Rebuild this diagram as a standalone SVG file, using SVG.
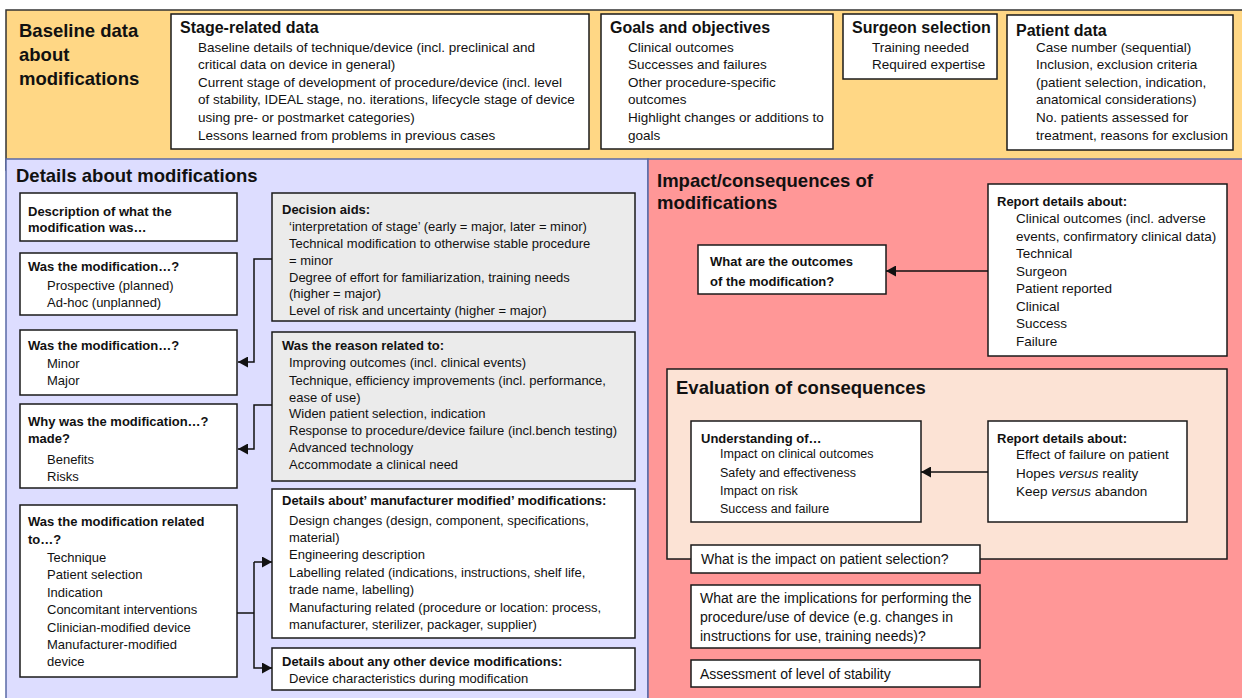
<svg xmlns="http://www.w3.org/2000/svg" width="1242" height="698" viewBox="0 0 1242 698">
<defs>
<style>
text{font-family:"Liberation Sans",Arial,sans-serif;fill:#111}
.pt{font-size:18.5px;font-weight:bold}
.bt{font-size:16px;font-weight:bold}
.hb{font-size:13px;font-weight:bold}
.r13{font-size:13px}
.r135{font-size:13.5px}
.r125{font-size:12.5px}
.r14{font-size:14px}
.box{fill:#fff;stroke:#1a1a1a;stroke-width:1.5}
.gbox{fill:#ebebeb;stroke:#1a1a1a;stroke-width:1.5}
.con{fill:none;stroke:#111;stroke-width:1.5}
</style>
<marker id="ah" markerWidth="10" markerHeight="11" refX="10" refY="5.5" orient="auto" markerUnits="userSpaceOnUse"><path d="M0,0 L10,5.5 L0,11 z" fill="#111"/></marker>
</defs>
<rect width="1242" height="698" fill="#fff"/>
<g id="panel-baseline">
<rect x="6" y="10" width="1250" height="160" fill="#FFD785" stroke="#333" stroke-width="1.5"/>
<text class="pt" x="19" y="37">Baseline data</text>
<text class="pt" x="19" y="61">about</text>
<text class="pt" x="19" y="85">modifications</text>
</g>
<g id="panel-details">
<rect x="6" y="159" width="642" height="545" fill="#DDDDFF" stroke="#5A6AA6" stroke-width="1.5"/>
<text class="pt" x="16" y="182">Details about modifications</text>
</g>
<g id="panel-impact">
<rect x="648" y="159" width="600" height="545" fill="#FF9797" stroke="#5A6AA6" stroke-width="1.5"/>
<text class="pt" x="657" y="187">Impact/consequences of</text>
<text class="pt" x="657" y="209">modifications</text>
</g>
<g id="stage-related">
<rect class="box" x="171" y="14" width="418" height="135"/>
<text class="bt" x="180" y="33">Stage-related data</text>
<text class="r135" x="198" y="51.5">Baseline details of technique/device (incl. preclinical and</text>
<text class="r135" x="198" y="69.1">critical data on device in general)</text>
<text class="r135" x="198" y="86.7">Current stage of development of procedure/device (incl. level</text>
<text class="r135" x="198" y="104.3">of stability, IDEAL stage, no. iterations, lifecycle stage of device</text>
<text class="r135" x="198" y="121.9">using pre- or postmarket categories)</text>
<text class="r135" x="198" y="139.5">Lessons learned from problems in previous cases</text>
</g>
<g id="goals">
<rect class="box" x="601" y="14" width="232" height="135"/>
<text class="bt" x="610" y="33">Goals and objectives</text>
<text class="r135" x="628" y="51.5">Clinical outcomes</text>
<text class="r135" x="628" y="69.1">Successes and failures</text>
<text class="r135" x="628" y="86.7">Other procedure-specific</text>
<text class="r135" x="628" y="104.3">outcomes</text>
<text class="r135" x="628" y="121.9">Highlight changes or additions to</text>
<text class="r135" x="628" y="139.5">goals</text>
</g>
<g id="surgeon">
<rect class="box" x="843" y="14" width="154" height="65"/>
<text class="bt" x="852" y="33">Surgeon selection</text>
<text class="r135" x="872" y="51.5">Training needed</text>
<text class="r135" x="872" y="69.1">Required expertise</text>
</g>
<g id="patient">
<rect class="box" x="1007" y="15" width="226" height="135"/>
<text class="bt" x="1016" y="36">Patient data</text>
<text class="r135" x="1036" y="51.5">Case number (sequential)</text>
<text class="r135" x="1036" y="69.1">Inclusion, exclusion criteria</text>
<text class="r135" x="1036" y="86.7">(patient selection, indication,</text>
<text class="r135" x="1036" y="104.3">anatomical considerations)</text>
<text class="r135" x="1036" y="121.9">No. patients assessed for</text>
<text class="r135" x="1036" y="139.5">treatment, reasons for exclusion</text>
</g>
<g id="description">
<rect class="box" x="20" y="193" width="217" height="48"/>
<text class="hb" x="28" y="215.5">Description of what the</text>
<text class="hb" x="28" y="231.5">modification was…</text>
</g>
<g id="planned">
<rect class="box" x="20" y="253" width="217" height="62"/>
<text class="hb" x="28" y="270.5">Was the modification…?</text>
<text class="r13" x="47" y="289.5">Prospective (planned)</text>
<text class="r13" x="47" y="306.5">Ad-hoc (unplanned)</text>
</g>
<g id="minor-major">
<rect class="box" x="20" y="330" width="217" height="65"/>
<text class="hb" x="28" y="349.5">Was the modification…?</text>
<text class="r13" x="47" y="367.5">Minor</text>
<text class="r13" x="47" y="384.5">Major</text>
</g>
<g id="why">
<rect class="box" x="20" y="404" width="217" height="84"/>
<text class="hb" x="28" y="425.5">Why was the modification…?</text>
<text class="hb" x="28" y="442.5">made?</text>
<text class="r13" x="47" y="463.5">Benefits</text>
<text class="r13" x="47" y="480.5">Risks</text>
</g>
<g id="related">
<rect class="box" x="20" y="505" width="217" height="172"/>
<text class="hb" x="28" y="525.5">Was the modification related</text>
<text class="hb" x="28" y="543.5">to…?</text>
<text class="r13" x="47" y="561.5">Technique</text>
<text class="r13" x="47" y="579">Patient selection</text>
<text class="r13" x="47" y="596.5">Indication</text>
<text class="r13" x="47" y="614">Concomitant interventions</text>
<text class="r13" x="47" y="631.5">Clinician-modified device</text>
<text class="r13" x="47" y="649">Manufacturer-modified</text>
<text class="r13" x="47" y="666">device</text>
</g>
<g id="decision-aids">
<rect class="gbox" x="272" y="193" width="363" height="128"/>
<text class="hb" x="282" y="213.7">Decision aids:</text>
<text class="r13" x="289" y="230.7">‘interpretation of stage’ (early = major, later = minor)</text>
<text class="r13" x="289" y="247.7">Technical modification to otherwise stable procedure</text>
<text class="r13" x="289" y="264.7">= minor</text>
<text class="r13" x="289" y="281.7">Degree of effort for familiarization, training needs</text>
<text class="r13" x="289" y="298.2">(higher = major)</text>
<text class="r13" x="289" y="314.7">Level of risk and uncertainty (higher = major)</text>
</g>
<g id="reason">
<rect class="gbox" x="272" y="332" width="363" height="149"/>
<text class="hb" x="282" y="349.7">Was the reason related to:</text>
<text class="r13" x="289" y="366.7">Improving outcomes (incl. clinical events)</text>
<text class="r13" x="289" y="384.5">Technique, efficiency improvements (incl. performance,</text>
<text class="r13" x="289" y="401.5">ease of use)</text>
<text class="r13" x="289" y="418">Widen patient selection, indication</text>
<text class="r13" x="289" y="435">Response to procedure/device failure (incl.bench testing)</text>
<text class="r13" x="289" y="452">Advanced technology</text>
<text class="r13" x="289" y="469">Accommodate a clinical need</text>
</g>
<g id="manufacturer">
<rect class="box" x="272" y="489" width="363" height="149"/>
<text class="hb" x="282" y="504.7">Details about’ manufacturer modified’ modifications:</text>
<text class="r13" x="289" y="524.7">Design changes (design, component, specifications,</text>
<text class="r13" x="289" y="541.7">material)</text>
<text class="r13" x="289" y="558.7">Engineering description</text>
<text class="r13" x="289" y="576.7">Labelling related (indications, instructions, shelf life,</text>
<text class="r13" x="289" y="593.7">trade name, labelling)</text>
<text class="r13" x="289" y="611.7">Manufacturing related (procedure or location: process,</text>
<text class="r13" x="289" y="628.7">manufacturer, sterilizer, packager, supplier)</text>
</g>
<g id="other-device">
<rect class="box" x="272" y="648" width="363" height="42"/>
<text class="hb" x="282" y="665.7">Details about any other device modifications:</text>
<text class="r13" x="289" y="682.7">Device characteristics during modification</text>
</g>
<g id="outcomes">
<rect class="box" x="698" y="245" width="188" height="49"/>
<text class="hb" x="710" y="266">What are the outcomes</text>
<text class="hb" x="710" y="285.5">of the modification?</text>
</g>
<g id="report-outcomes">
<rect class="box" x="988" y="184" width="239" height="172"/>
<text class="hb" x="997" y="205.7">Report details about:</text>
<text class="r135" x="1016" y="223">Clinical outcomes (incl. adverse</text>
<text class="r135" x="1016" y="240.5">events, confirmatory clinical data)</text>
<text class="r135" x="1016" y="258">Technical</text>
<text class="r135" x="1016" y="275.5">Surgeon</text>
<text class="r135" x="1016" y="293">Patient reported</text>
<text class="r135" x="1016" y="310.5">Clinical</text>
<text class="r135" x="1016" y="328">Success</text>
<text class="r135" x="1016" y="345.5">Failure</text>
</g>
<g id="evaluation">
<rect x="667" y="369" width="560" height="190" fill="#FCE3D5" stroke="#1a1a1a" stroke-width="1.5"/>
<text class="pt" x="676" y="394">Evaluation of consequences</text>
</g>
<g id="understanding">
<rect class="box" x="691" y="421" width="230" height="101"/>
<text class="hb" x="701" y="443">Understanding of…</text>
<text class="r125" x="720" y="458">Impact on clinical outcomes</text>
<text class="r125" x="720" y="476.5">Safety and effectiveness</text>
<text class="r125" x="720" y="495">Impact on risk</text>
<text class="r125" x="720" y="513">Success and failure</text>
</g>
<g id="report-failure">
<rect class="box" x="988" y="421" width="199" height="101"/>
<text class="hb" x="997" y="443">Report details about:</text>
<text class="r135" x="1016" y="459">Effect of failure on patient</text>
<text class="r135" x="1016" y="477.5">Hopes <tspan font-style="italic">versus</tspan> reality</text>
<text class="r135" x="1016" y="496">Keep <tspan font-style="italic">versus</tspan> abandon</text>
</g>
<g id="patient-selection">
<rect class="box" x="691" y="545" width="289" height="28"/>
<text class="r14" x="701" y="564">What is the impact on patient selection?</text>
</g>
<g id="implications">
<rect class="box" x="691" y="585" width="289" height="63"/>
<text class="r14" x="700" y="603">What are the implications for performing the</text>
<text class="r14" x="700" y="622">procedure/use of device (e.g. changes in</text>
<text class="r14" x="700" y="641">instructions for use, training needs)?</text>
</g>
<g id="stability">
<rect class="box" x="691" y="660" width="289" height="27"/>
<text class="r14" x="700" y="679">Assessment of level of stability</text>
</g>
<g id="connectors">
<path class="con" d="M272,259 H254 V362 H238" marker-end="url(#ah)"/>
<path class="con" d="M272,405 H254 V449 H238" marker-end="url(#ah)"/>
<path class="con" d="M237,613 H254"/>
<path class="con" d="M254,562 H272" marker-end="url(#ah)"/>
<path class="con" d="M254,562 V668 H272" marker-end="url(#ah)"/>
<path class="con" d="M988,271 H886" marker-end="url(#ah)"/>
<path class="con" d="M988,472 H921" marker-end="url(#ah)"/>
</g>
</svg>
